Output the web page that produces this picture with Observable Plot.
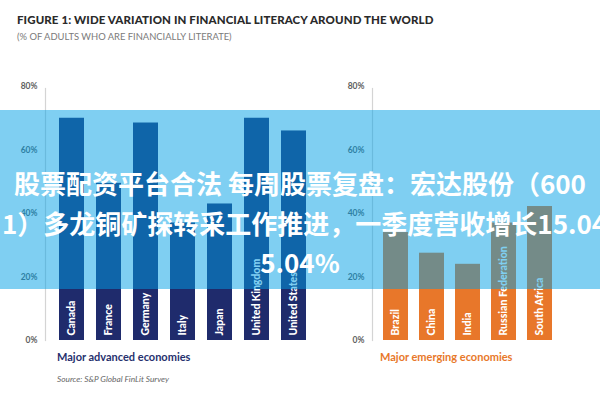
<!DOCTYPE html>
<html><head><meta charset="utf-8">
<script src="https://cdn.jsdelivr.net/npm/d3@7"></script>
<script src="https://cdn.jsdelivr.net/npm/@observablehq/plot@0.6"></script>
<style>
html,body{margin:0;padding:0;background:#fff;}
#wrap{position:relative;width:600px;height:400px;overflow:hidden;font-family:Lato,"Open Sans",sans-serif;}
.abs{position:absolute;white-space:nowrap;}
.plot{position:absolute;left:0;top:0;}
#title{left:17px;top:13px;font-size:11.5px;font-weight:900;color:#2a2a2a;letter-spacing:0.1px;}
#subtitle{left:17px;top:31px;font-size:9.4px;color:#7a7a7a;}
#advLabel{left:57px;top:350px;font-size:11px;font-weight:700;color:#27316e;}
#emgLabel{left:380px;top:350px;font-size:11px;font-weight:700;color:#e8782a;}
#source{left:57px;top:374px;font-size:8.3px;font-style:italic;color:#666;}
#banner{position:absolute;left:0;top:110px;width:600px;height:179px;background:rgba(0,160,230,0.5);overflow:hidden;
  font-family:"Noto Sans CJK SC",sans-serif;font-weight:700;font-size:26px;color:#fff;}
#banner div{position:absolute;white-space:nowrap;line-height:30px;}
#b1{left:0;width:600px;text-align:center;top:58px;}
#b2{left:2px;top:98px;}
#b3{left:0;width:600px;text-align:center;top:137px;}
</style>
</head><body>
<div id="wrap">
  <div id="title" class="abs">FIGURE 1: WIDE VARIATION IN FINANCIAL LITERACY AROUND THE WORLD</div>
  <div id="subtitle" class="abs">(% OF ADULTS WHO ARE FINANCIALLY LITERATE)</div>
  <div id="plots"></div>
  <div id="advLabel" class="abs">Major advanced economies</div>
  <div id="emgLabel" class="abs">Major emerging economies</div>
  <div id="source" class="abs">Source: S&amp;P Global FinLit Survey</div>
  <div id="banner">
    <div id="b1">股票配资平台合法 每周股票复盘：宏达股份（600</div>
    <div id="b2">1）多龙铜矿探转采工作推进，一季度营收增长15.04%</div>
    <div id="b3">5.04%</div>
  </div>
</div>
<script>
const advCountries = ["Canada","France","Germany","Italy","Japan","United Kingdom","United States"];
const advValues = [70, 49.5, 68.5, 37, 43, 70, 66];
const emgCountries = ["Brazil","China","India","Russian Federation","South Africa"];
const emgValues = [34, 27.5, 24, 37, 42.2];
const yTicks = [0, 20, 40, 60, 80];

function panel(countries, values, color, xRange, padIn, padOut, axisX) {
  const data = countries.map((c, i) => ({country: c, value: values[i]}));
  return Plot.plot({
    width: 600, height: 400,
    marginLeft: axisX, marginRight: 0, marginTop: 88, marginBottom: 60,
    style: {background: "transparent", fontFamily: "Lato, 'Open Sans', sans-serif", overflow: "visible"},
    x: {domain: countries, range: xRange, paddingInner: padIn, paddingOuter: padOut, axis: null},
    y: {domain: [0, 80], range: [340, 86]},
    marks: [
      Plot.frame({anchor: "left", stroke: "#d4d4d4", strokeWidth: 1.2}),
      Plot.axisY({ticks: yTicks, tickSize: 0, tickPadding: 8, tickFormat: d => d + "%",
        fontSize: 8.5, fontWeight: "bold", fill: "#5e5e5e", label: null}),
      Plot.barY(data, {x: "country", y: "value", fill: color}),
      Plot.text(data, {x: "country", y: 0, text: "country", rotate: -90, textAnchor: "start",
        dy: -5, fill: "white", fontWeight: 900, fontSize: 10.5})
    ]
  });
}

const plots = document.getElementById("plots");
const p1 = panel(advCountries, advValues, "#1f2b6c", [51, 314], 1/3, 1/6, 45);
const p2 = panel(emgCountries, emgValues, "#e8772a", [376.4, 557.6], 0.31, 0.155, 372);
p1.classList.add("plot"); p2.classList.add("plot");
plots.appendChild(p1); plots.appendChild(p2);
</script>
</body></html>
